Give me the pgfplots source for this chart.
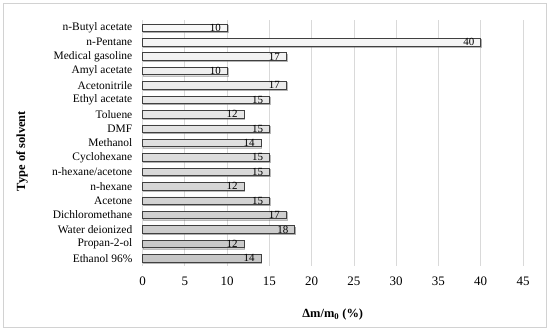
\documentclass[border=0pt]{standalone}
\usepackage{pgfplots}
\pgfplotsset{compat=1.18}
\usepackage{fontspec}
\setmainfont{Liberation Serif}
\usetikzlibrary{shadows}
\begin{document}
\begin{tikzpicture}
\begin{axis}[name=ax, scale only axis, width=380.5bp, height=245bp,
  xbar, bar width=7.5bp,
  xmin=0, xmax=45, ymin=-0.5, ymax=16.5,
  xtick={0,5,...,45}, ytick={0,...,16},
  yticklabels={Ethanol 96\%, Propan-2-ol, Water deionized, Dichloromethane, Acetone, n-hexane, n-hexane/acetone, Cyclohexane, Methanol, DMF, Toluene, Ethyl acetate, Acetonitrile, Amyl acetate, Medical gasoline, n-Pentane, n-Butyl acetate},
  axis line style={draw=none}, major tick length=0pt,
  xmajorgrids, grid style={gray!30, line width=0.75bp},
  /pgf/number format/assume math mode=true,
  xticklabel style={font=\fontsize{13}{13}\selectfont, inner sep=0pt, yshift=-11.5bp},
  yticklabel style={font=\fontsize{11.5}{12}\selectfont, inner sep=0pt, xshift=-10bp},
  xlabel={\textbf{Δm/m\textsubscript{0} (\%)}},
  ylabel={\textbf{Type of solvent}},
  every axis x label/.style={at={(rel axis cs:0.5,0)}, anchor=center, yshift=-49.5bp, font=\fontsize{12.5}{12.5}\selectfont},
  every axis y label/.style={at={(rel axis cs:0,0.467)}, xshift=-120.5bp, rotate=90, anchor=center, font=\fontsize{12.5}{12.5}\selectfont},
  nodes near coords, point meta=x,
  nodes near coords style={anchor=east, xshift=-5bp, font=\fontsize{11}{11}\selectfont, inner sep=1bp, text=black},
  clip=false,
]
\addplot[draw=gray!50!black, line width=0.65bp, top color=gray!5, bottom color=gray!45,
  drop shadow={shadow xshift=0.8bp, shadow yshift=-1.2bp, opacity=0.35}]
coordinates {
(14,0) (12,1) (18,2) (17,3) (15,4) (12,5) (15,6) (15,7) (14,8) (15,9) (12,10) (15,11) (17,12) (10,13) (17,14) (40,15) (10,16)
};
\end{axis}
\draw[gray!35, line width=0.75bp] ([xshift=-139.5bp,yshift=-62bp]ax.south west) rectangle ([xshift=23.5bp,yshift=17.5bp]ax.north east);
\pgfresetboundingbox
\useasboundingbox ([xshift=-142.5bp,yshift=-65.5bp]ax.south west) rectangle ([xshift=27bp,yshift=20.5bp]ax.north east);
\end{tikzpicture}
\end{document}
